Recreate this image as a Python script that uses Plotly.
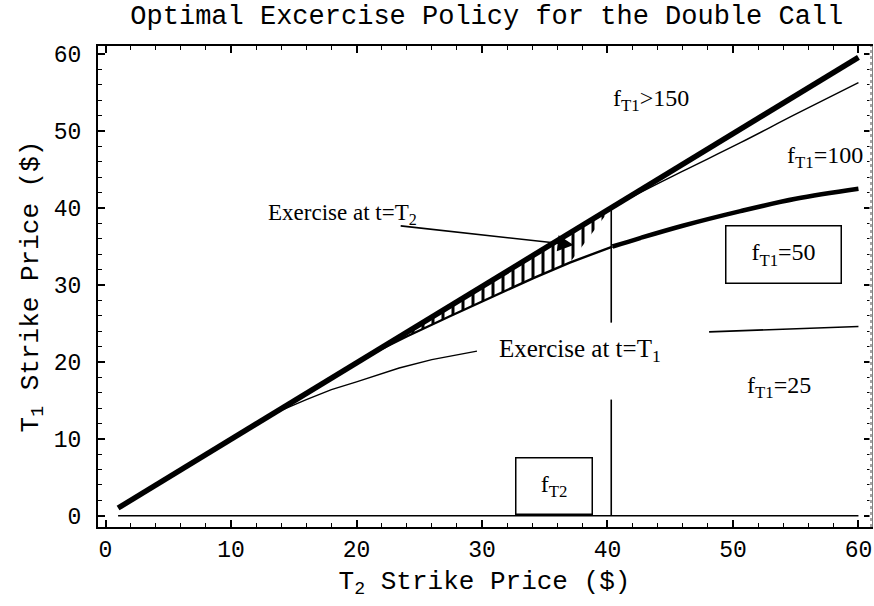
import numpy as np
import plotly.graph_objects as go

# ---------------- data ----------------
# thick diagonal boundary
diag_x = [1, 60]
diag_y = [1, 59.6]
# thin upper boundary (f_T1 > 150 / 100)
upper_x = [38, 42.6, 46, 50.6, 55, 60]
upper_y = [37.9, 42.0, 44.8, 48.5, 52.2, 56.3]
# f_T1 = 100 boundary
b100_x = [21, 24, 27.4, 30, 34.1, 37, 40.4, 42.6, 46, 50.6, 55, 60]
b100_y = [20.86, 23.3, 25.9, 27.8, 30.9, 32.9, 35.0, 36.1, 37.7, 39.6, 41.2, 42.5]
# f_T1 = 25 / 50 boundary (left and right visible parts)
b25l_x = [12.5, 14, 16, 18, 20, 21.8, 23.4, 26, 29.6]
b25l_y = [12.4, 13.7, 15.1, 16.4, 17.4, 18.3, 19.2, 20.3, 21.4]
b25r_x = [48.1, 52, 56, 60]
b25r_y = [23.9, 24.1, 24.4, 24.6]
# f_T2 line (T1 strike = 0)
ft2_x = [1, 60]
ft2_y = [0, 0]
# vertical divider at T2 = 40.3 (two visible pieces)
vline_x = 40.3
vline_top = [40.1, 25.1]
vline_bot = [15.1, 0]
# hatched region (exercise at t=T2) between diagonal and f_T1=100 curve
hatch_from, hatch_to = 21.0, 40.3

xticks = [0, 10, 20, 30, 40, 50, 60]
yticks = [0, 10, 20, 30, 40, 50, 60]

MONO = "Liberation Mono"
SERIF = "Liberation Serif"

fig = go.Figure()

# hatched fill polygon
hx_low = [x for x in b100_x if hatch_from <= x <= hatch_to]
hy_low = [y for x, y in zip(b100_x, b100_y) if hatch_from <= x <= hatch_to]
poly_x = [hatch_from, hatch_to] + hx_low[::-1]
poly_y = list(np.interp([hatch_from, hatch_to], diag_x, diag_y)) + hy_low[::-1]
fig.add_trace(go.Scatter(
    x=poly_x, y=poly_y, mode="lines", fill="toself",
    line=dict(width=0, color="rgba(0,0,0,0)"),
    fillcolor="black",
    fillpattern=dict(shape="|", size=10, solidity=0.3, fgcolor="black", bgcolor="white",
                     fillmode="replace"),
    hoverinfo="skip", showlegend=False))

line_black = "black"
fig.add_trace(go.Scatter(x=ft2_x, y=ft2_y, mode="lines",
                         line=dict(color=line_black, width=1.6), showlegend=False))
fig.add_trace(go.Scatter(x=b25l_x, y=b25l_y, mode="lines",
                         line=dict(color=line_black, width=1.4), showlegend=False))
fig.add_trace(go.Scatter(x=b25r_x, y=b25r_y, mode="lines",
                         line=dict(color=line_black, width=1.6), showlegend=False))
fig.add_trace(go.Scatter(x=upper_x, y=upper_y, mode="lines",
                         line=dict(color=line_black, width=1.4, shape="spline"), showlegend=False))
# f_T1=100 curve: thinner left part, thick right part
split = b100_x.index(40.4)
fig.add_trace(go.Scatter(x=b100_x[:split + 1], y=b100_y[:split + 1], mode="lines",
                         line=dict(color=line_black, width=2.4), showlegend=False))
fig.add_trace(go.Scatter(x=b100_x[split:], y=b100_y[split:], mode="lines",
                         line=dict(color=line_black, width=4.5, shape="spline"), showlegend=False))
fig.add_trace(go.Scatter(x=diag_x, y=diag_y, mode="lines",
                         line=dict(color=line_black, width=5.5), showlegend=False))
# vertical divider
fig.add_trace(go.Scatter(x=[vline_x, vline_x, None, vline_x, vline_x],
                         y=[vline_top[0], vline_top[1], None, vline_bot[0], vline_bot[1]],
                         mode="lines", line=dict(color=line_black, width=1.6), showlegend=False))

ann_font = dict(family=SERIF, size=24, color="black")
anns = [
    dict(x=43.5, y=54.1, text="f<sub>T1</sub>>150"),
    dict(x=57.3, y=46.6, text="f<sub>T1</sub>=100"),
    dict(x=53.7, y=16.7, text="f<sub>T1</sub>=25"),
    dict(x=37.8, y=21.5, text="Exercise at t=T<sub>1</sub>", font=dict(family=SERIF, size=25, color="black")),
    dict(x=18.9, y=39.2, text="Exercise at t=T<sub>2</sub>", font=dict(family=SERIF, size=23, color="black")),
]
for a in anns:
    fig.add_annotation(x=a["x"], y=a["y"], text=a["text"], showarrow=False,
                       xanchor="center", yanchor="middle",
                       font=a.get("font", ann_font))
# boxed labels
fig.add_annotation(x=54.0, y=33.9, text="f<sub>T1</sub>=50", showarrow=False,
                   xanchor="center", yanchor="middle", font=ann_font,
                   width=110, height=52, bordercolor="black", borderwidth=1.5,
                   borderpad=2, bgcolor="white")
fig.add_annotation(x=35.7, y=3.9, text="f<sub>T2</sub>", showarrow=False,
                   xanchor="center", yanchor="middle", font=ann_font,
                   width=71, height=51, bordercolor="black", borderwidth=1.5,
                   borderpad=2, bgcolor="white")
# arrow
fig.add_annotation(x=37.3, y=35.2, ax=23.4, ay=37.7, axref="x", ayref="y",
                   xref="x", yref="y", text="", showarrow=True,
                   arrowhead=2, arrowsize=2.0, arrowwidth=1.6, arrowcolor="black")

axis_common = dict(
    showline=True, linecolor="black", linewidth=2,
    ticks="inside", ticklen=7, tickwidth=1.5, tickcolor="black",
    showgrid=False, zeroline=False, automargin=False,
    tickfont=dict(family=MONO, size=23, color="black"),
    minor=dict(dtick=2, ticks="inside", ticklen=4, tickwidth=1.2, tickcolor="black", showgrid=False),
)
fig.update_xaxes(range=[-0.6, 61.0], tickvals=xticks, ticktext=[str(v) for v in xticks],
                 mirror="ticks",
                 title=dict(text="T<sub>2</sub> Strike Price ($)",
                            font=dict(family=MONO, size=26, color="black"), standoff=8),
                 **axis_common)
fig.update_yaxes(range=[-1.47, 61.07], tickvals=yticks, ticktext=[str(v) for v in yticks],
                 ticklabelstandoff=10, mirror="ticks",
                 title=dict(text="T<sub>1</sub> Strike Price ($)",
                            font=dict(family=MONO, size=26, color="black"), standoff=8),
                 **axis_common)

# right frame edge in the reference is a light dotted line
fig.add_shape(type="line", xref="paper", yref="paper", x0=1, x1=1, y0=0, y1=1,
              line=dict(color="white", width=3), layer="above")
fig.add_shape(type="line", xref="paper", yref="paper", x0=1, x1=1, y0=0, y1=1,
              line=dict(color="#888888", width=1.5, dash="dot"), layer="above")

fig.update_layout(
    width=874, height=606,
    margin=dict(l=98, r=3, t=46, b=79, autoexpand=False),
    paper_bgcolor="white", plot_bgcolor="white",
    showlegend=False,
    title=dict(text="Optimal Excercise Policy for the Double Call",
               font=dict(family=MONO, size=27, color="black"),
               x=0.557, xref="container", xanchor="center",
               y=1 - 15 / 606, yref="container", yanchor="middle",
               automargin=False),
)

fig.write_html("out.html",
               config={"displayModeBar": False},
               post_script="document.body.style.margin='0';document.body.style.padding='0';"
                           "document.body.style.overflow='hidden';")
